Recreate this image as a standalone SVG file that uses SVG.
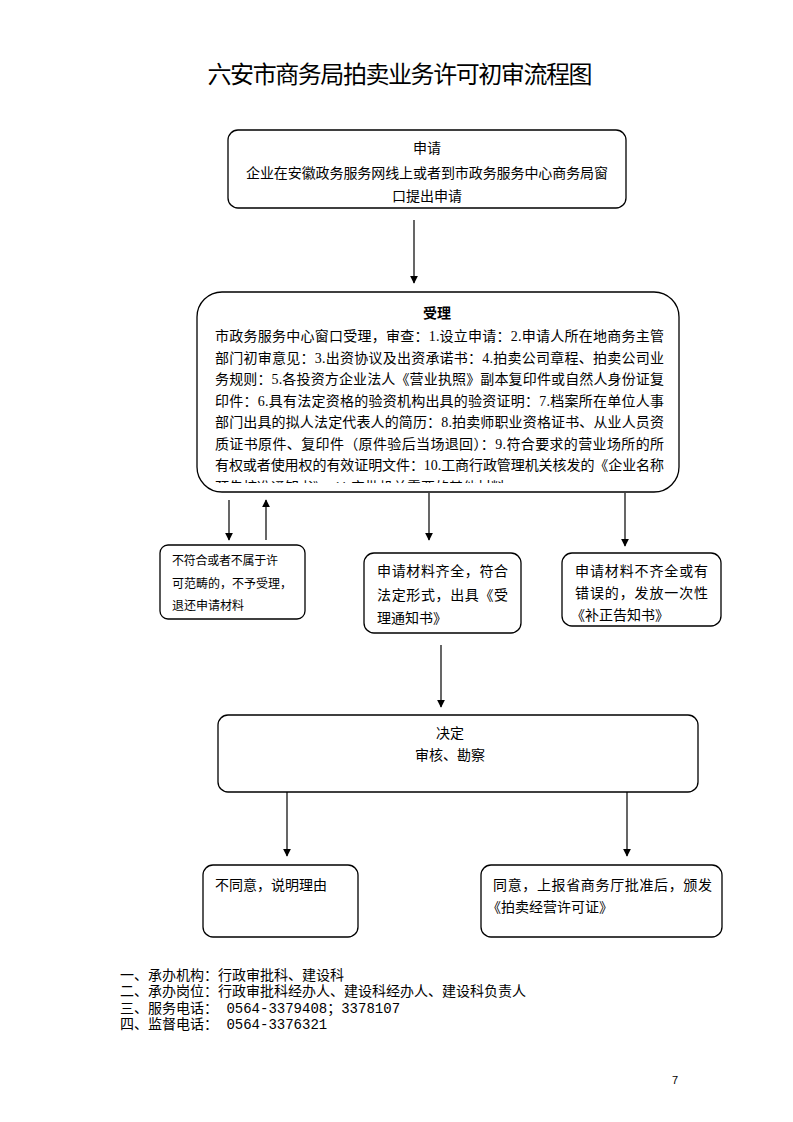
<svg xmlns="http://www.w3.org/2000/svg" width="793" height="1122" viewBox="0 0 793 1122">
<defs>
<style>
.box{fill:#fff;stroke:#000;stroke-width:1.3}
.t{font-family:"Liberation Serif","Noto Sans CJK SC",serif;font-size:14px;fill:#000}
.s{font-family:"Liberation Serif","Noto Sans CJK SC",serif;font-size:12px;fill:#000}
.f{font-family:"Liberation Mono","Noto Sans CJK SC",monospace;font-size:14px;fill:#000}
.c{stroke:#000;stroke-width:1.2;fill:none;marker-end:url(#ah)}
</style>
<marker id="ah" viewBox="0 0 10 10" refX="9" refY="5" markerWidth="8" markerHeight="8" markerUnits="userSpaceOnUse" orient="auto">
<path d="M0,0 L10,5 L0,10 z" fill="#000"/>
</marker>
<clipPath id="clipB"><rect x="200" y="295" width="476" height="188"/></clipPath>
</defs>
<rect width="793" height="1122" fill="#fff"/>
<text x="400" y="83" text-anchor="middle" style="font-family:'Noto Sans CJK SC',sans-serif;font-size:24px" textLength="385" lengthAdjust="spacing">六安市商务局拍卖业务许可初审流程图</text>

<g id="n-apply">
<rect class="box" x="228" y="130" width="398" height="78" rx="10"/>
<text class="t" x="427" y="153" text-anchor="middle">申请</text>
<text class="t" x="246" y="178" textLength="362" lengthAdjust="spacing">企业在安徽政务服务网线上或者到市政务服务中心商务局窗</text>
<text class="t" x="427" y="201" text-anchor="middle">口提出申请</text>
</g>

<g id="n-accept">
<rect class="box" x="197" y="292" width="482" height="200" rx="25"/>
<text class="t" x="437" y="318" text-anchor="middle" font-weight="bold">受理</text>
<g clip-path="url(#clipB)">
<text class="t" x="215" y="341" textLength="449" lengthAdjust="spacing">市政务服务中心窗口受理，审查：1.设立申请：2.申请人所在地商务主管</text>
<text class="t" x="215" y="362.5" textLength="449" lengthAdjust="spacing">部门初审意见：3.出资协议及出资承诺书：4.拍卖公司章程、拍卖公司业</text>
<text class="t" x="215" y="384" textLength="449" lengthAdjust="spacing">务规则：5.各投资方企业法人《营业执照》副本复印件或自然人身份证复</text>
<text class="t" x="215" y="405.5" textLength="449" lengthAdjust="spacing">印件：6.具有法定资格的验资机构出具的验资证明：7.档案所在单位人事</text>
<text class="t" x="215" y="427" textLength="449" lengthAdjust="spacing">部门出具的拟人法定代表人的简历：8.拍卖师职业资格证书、从业人员资</text>
<text class="t" x="215" y="448.5" textLength="449" lengthAdjust="spacing">质证书原件、复印件（原件验后当场退回）：9.符合要求的营业场所的所</text>
<text class="t" x="215" y="470" textLength="449" lengthAdjust="spacing">有权或者使用权的有效证明文件：10.工商行政管理机关核发的《企业名称</text>
<text class="t" x="215" y="491.5">预先核准通知书》，11.审批机关需要的其他材料</text>
</g>
</g>

<g id="n-reject">
<rect class="box" x="160" y="545" width="145" height="74" rx="8"/>
<text class="s" x="172" y="565" textLength="106" lengthAdjust="spacing">不符合或者不属于许</text>
<text class="s" x="172" y="588">可范畴的，不予受理，</text>
<text class="s" x="172" y="610">退还申请材料</text>
</g>

<g id="n-complete">
<rect class="box" x="364" y="553" width="157" height="80" rx="10"/>
<text class="t" x="377" y="576" textLength="131" lengthAdjust="spacing">申请材料齐全，符合</text>
<text class="t" x="377" y="600" textLength="131" lengthAdjust="spacing">法定形式，出具《受</text>
<text class="t" x="377" y="623">理通知书》</text>
</g>

<g id="n-incomplete">
<rect class="box" x="562" y="553" width="159" height="73" rx="10"/>
<text class="t" x="575" y="576" textLength="133" lengthAdjust="spacing">申请材料不齐全或有</text>
<text class="t" x="575" y="598" textLength="133" lengthAdjust="spacing">错误的，发放一次性</text>
<text class="t" x="571" y="620">《补正告知书》</text>
</g>

<g id="n-decide">
<rect class="box" x="218" y="715" width="480" height="77" rx="10"/>
<text class="t" x="450" y="738" text-anchor="middle">决定</text>
<text class="t" x="450" y="760" text-anchor="middle">审核、勘察</text>
</g>

<g id="n-deny">
<rect class="box" x="203" y="865" width="155" height="72" rx="10"/>
<text class="t" x="215" y="890">不同意，说明理由</text>
</g>

<g id="n-approve">
<rect class="box" x="481" y="865" width="241" height="72" rx="10"/>
<text class="t" x="493" y="890" textLength="219" lengthAdjust="spacing">同意，上报省商务厅批准后，颁发</text>
<text class="t" x="487" y="912">《拍卖经营许可证》</text>
</g>

<g id="connectors">
<line class="c" x1="414" y1="220" x2="414" y2="283"/>
<line class="c" x1="229" y1="500" x2="229" y2="540"/>
<line class="c" x1="266" y1="540" x2="266" y2="500"/>
<line class="c" x1="429" y1="493" x2="429" y2="540"/>
<line class="c" x1="625" y1="493" x2="625" y2="546"/>
<line class="c" x1="441" y1="645" x2="441" y2="707"/>
<line class="c" x1="287" y1="792" x2="287" y2="856"/>
<line class="c" x1="627" y1="792" x2="627" y2="856"/>
</g>

<g id="footer">
<text class="f" x="120" y="980">一、承办机构：行政审批科、建设科</text>
<text class="f" x="120" y="996">二、承办岗位：行政审批科经办人、建设科经办人、建设科负责人</text>
<text class="f" x="120" y="1013">三、服务电话： 0564-3379408；3378107</text>
<text class="f" x="120" y="1029">四、监督电话： 0564-3376321</text>
</g>
<text x="672" y="1084" style="font-family:'Liberation Sans',sans-serif;font-size:11px">7</text>
</svg>
